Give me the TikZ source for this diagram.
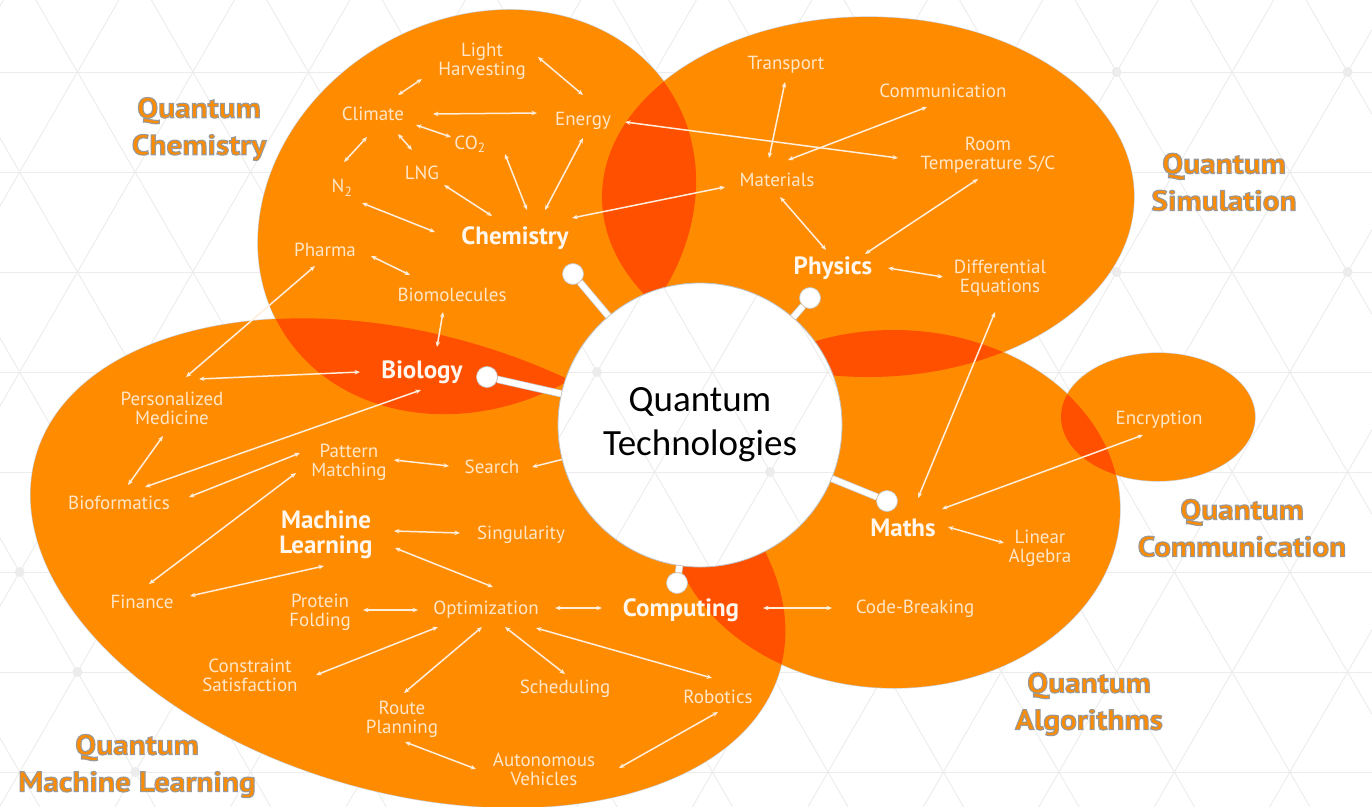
\documentclass[tikz,border=0pt]{standalone}
\usepackage{fontspec}
\setmainfont{PT Sans}
\newfontfamily\qtfont{Carlito}
\newfontfamily\ttlfont[FakeStretch=1.1]{PT Sans}
\usetikzlibrary{arrows.meta}

\definecolor{qorange}{RGB}{255,140,0}
\definecolor{qred}{RGB}{255,80,0}
\definecolor{qlabel}{RGB}{255,230,200}
\definecolor{qhubtext}{RGB}{255,247,238}
\definecolor{qarrow}{RGB}{255,238,220}
\definecolor{qgridc}{RGB}{236,236,236}
\definecolor{qoutline}{RGB}{150,150,150}

\tikzset{
  lbl/.style={font=\fontsize{19}{19}\selectfont, text=qlabel, align=center, inner sep=1pt},
  hublbl/.style={font=\bfseries\fontsize{25}{25}\selectfont, text=qhubtext, align=center, inner sep=1pt},
  ttl/.style={font=\ttlfont\bfseries\fontsize{28.5}{37}\selectfont, text=qorange, align=center, inner sep=0pt},
  biarrow/.style={draw=qarrow, line width=1.5pt, {Stealth[length=5.5pt,width=4.5pt]}-{Stealth[length=5.5pt,width=4.5pt]}},
  onearrow/.style={draw=qarrow, line width=1.5pt, -{Stealth[length=5.5pt,width=4.5pt]}},
  hubline/.style={draw=gray!45, line width=0.7pt, double=white, double distance=6pt},
  hubdot/.style={circle, fill=white, draw=gray!45, line width=0.7pt, minimum size=21pt, inner sep=0pt},
  gridline/.style={draw=qgridc, line width=0.9pt},
  edge halo/.style={draw=qoutline!50, line width=1.2pt},
  chemrot/.style={rotate around={31:(477,212)}},
  mlrot/.style={rotate around={-16:(408,563)}},
}

% double-headed link between two labels, ends given as offsets from the label centres
\newcommand\link[4]{\draw[biarrow] ([shift={#2}]#1.center) -- ([shift={#4}]#3.center);}

% glyphs filled in the text colour and stroked with a thin grey rim
\newcommand\rimtext[1]{\special{pdf:literal direct 2 Tr 1.1 w 0.6 0.6 0.6 RG}#1\special{pdf:literal direct 0 Tr}}
\newcommand\qtitle[3]{\node[ttl] (#1) at #2 {\rimtext{#3}};}

% faint triangular background lattice
\newcommand\qgrid{%
  \foreach \r in {-1,...,8} {\draw[gridline] (-10,{72+100*\r}) -- (1382,{72+100*\r});}
  \foreach \k in {-6,...,17} {%
    \draw[gridline] ({77.4+115.47*\k-57.735},-28) -- ++(519.6,900);
    \draw[gridline] ({77.4+115.47*\k+57.735},-28) -- ++(-519.6,900);}
  \foreach \p in {(597,372),(539,472),(770,472),(19.7,572),(77.4,672),(192.9,672),(135.2,772),(1116.6,72),(1347.5,72),(1116.6,272),(1347.5,272)}
    {\fill[qgridc] \p circle [radius=5pt];}
}

\begin{document}
\begin{tikzpicture}[x=1pt,y=-1pt]
\useasboundingbox (0,0) rectangle (1372,806);
\clip (0,0) rectangle (1372,806);
\fill[white] (0,0) rectangle (1372,806);
\qgrid

% ---- field bubbles: soft rims, then fills ----
\draw[edge halo, chemrot] (477,212) ellipse [x radius=228pt, y radius=192pt];
\draw[edge halo] (868,197) ellipse [x radius=266pt, y radius=180pt];
\draw[edge halo, mlrot] (408,563) ellipse [x radius=387pt, y radius=229pt];
\draw[edge halo] (894,509) ellipse [x radius=226pt, y radius=179pt];
\draw[edge halo] (1158,417) ellipse [x radius=97pt, y radius=64pt];

\fill[qorange, chemrot] (477,212) ellipse [x radius=228pt, y radius=192pt];
\fill[qorange] (868,197) ellipse [x radius=266pt, y radius=180pt];
\fill[qorange, mlrot] (408,563) ellipse [x radius=387pt, y radius=229pt];
\fill[qorange] (894,509) ellipse [x radius=226pt, y radius=179pt];
\fill[qorange] (1158,417) ellipse [x radius=97pt, y radius=64pt];

% ---- overlaps ----
\begin{scope}
  \clip[chemrot] (477,212) ellipse [x radius=228pt, y radius=192pt];
  \fill[qred] (868,197) ellipse [x radius=266pt, y radius=180pt];
\end{scope}
\begin{scope}
  \clip[chemrot] (477,212) ellipse [x radius=228pt, y radius=192pt];
  \fill[qred, mlrot] (408,563) ellipse [x radius=387pt, y radius=229pt];
\end{scope}
\begin{scope}
  \clip (868,197) ellipse [x radius=266pt, y radius=180pt];
  \fill[qred] (894,509) ellipse [x radius=226pt, y radius=179pt];
\end{scope}
\begin{scope}
  \clip[mlrot] (408,563) ellipse [x radius=387pt, y radius=229pt];
  \fill[qred] (894,509) ellipse [x radius=226pt, y radius=179pt];
\end{scope}
\begin{scope}
  \clip (894,509) ellipse [x radius=226pt, y radius=179pt];
  \fill[qred] (1158,417) ellipse [x radius=97pt, y radius=64pt];
\end{scope}

% ---- central disc ----
\fill[white] (700,425) circle [radius=142pt];
\begin{scope}
  \clip (700,425) circle [radius=142pt];
  \qgrid
\end{scope}
\node[circle, draw=gray!50, line width=0.8pt, minimum size=284pt, inner sep=0pt,
      font=\qtfont\fontsize{37}{44}\selectfont, align=center] (qt) at (700,425) {Quantum\\Technologies};

% ---- hub stems ----
\node[hubdot] (dchem) at (573,274) {};
\node[hubdot] (dphys) at (810,298) {};
\node[hubdot] (dbio)  at (487,377) {};
\node[hubdot] (dmath) at (887,501) {};
\node[hubdot] (dcomp) at (677,583) {};
\draw[hubline] (qt) -- (dchem);
\draw[hubline] (qt) -- (dphys);
\draw[hubline] (qt) -- (dbio);
\draw[hubline] (qt) -- (dmath);
\draw[hubline] (qt) -- (dcomp);

% ---- hub labels ----
\node[hublbl] (chem)  at (515,238) {Chemistry};
\node[hublbl] (phys)  at (833,268) {Physics};
\node[hublbl] (bio)   at (422,372) {Biology};
\node[hublbl] (ml)    at (326,535) {Machine\\Learning};
\node[hublbl] (comp)  at (681,610) {Computing};
\node[hublbl] (maths) at (903,528) {Maths};

% ---- topic labels ----
\node[lbl] (lh)     at (482,61)  {Light\\Harvesting};
\node[lbl] (clim)   at (373,114) {Climate};
\node[lbl] (ener)   at (583,121) {Energy};
\node[lbl] (co2)    at (470,144) {CO\textsubscript{2}};
\node[lbl] (lng)    at (422,173) {LNG};
\node[lbl] (n2)     at (342,188) {N\textsubscript{2}};
\node[lbl] (pharma) at (325,250) {Pharma};
\node[lbl] (biomol) at (452,295) {Biomolecules};

\node[lbl] (trans)  at (786,65)  {Transport};
\node[lbl] (comm)   at (943,91)  {Communication};
\node[lbl] (room)   at (988,155) {Room\\Temperature S/C};
\node[lbl] (mat)    at (777,180) {Materials};
\node[lbl] (diff)   at (1000,278) {Differential\\Equations};

\node[lbl] (pers)   at (172,408) {Personalized\\Medicine};
\node[lbl] (biof)   at (119,503) {Bioformatics};
\node[lbl] (patt)   at (349,462) {Pattern\\Matching};
\node[lbl] (search) at (492,467) {Search};
\node[lbl] (sing)   at (521,535) {Singularity};
\node[lbl] (fin)    at (142,602) {Finance};
\node[lbl] (prot)   at (320,612) {Protein\\Folding};
\node[lbl] (opt)    at (486,610) {Optimization};
\node[lbl] (cons)   at (250,675) {Constraint\\Satisfaction};
\node[lbl] (route)  at (402,719) {Route\\Planning};
\node[lbl] (sched)  at (565,689) {Scheduling};
\node[lbl] (robot)  at (718,697) {Robotics};
\node[lbl] (auto)   at (544,769) {Autonomous\\Vehicles};

\node[lbl] (codeb)  at (915,609) {Code-Breaking};
\node[lbl] (lin)    at (1040,548) {Linear\\Algebra};
\node[lbl] (enc)    at (1159,420) {Encryption};

% ---- links: chemistry ----
\link{clim}{(25,-19)}{lh}{(-60,18)}
\link{lh}{(56,-4)}{ener}{(0,-26)}
\link{clim}{(60,0)}{ener}{(-46,-8)}
\link{clim}{(43,11)}{co2}{(-19,-7)}
\link{clim}{(25,20)}{lng}{(-10,-23)}
\link{clim}{(-6,23)}{n2}{(2,-26)}
\link{lng}{(22,12)}{chem}{(-23,-22)}
\link{n2}{(20,15)}{chem}{(-80,-6)}
\link{co2}{(35,10)}{chem}{(12,-28)}
\link{ener}{(0,17)}{chem}{(30,-28)}
\link{mat}{(-52,7)}{chem}{(57,-20)}
\link{pharma}{(46,6)}{biomol}{(-42,-20)}
\link{pharma}{(-10,16)}{pers}{(14,-31)}

% ---- links: physics ----
\link{ener}{(42,1)}{room}{(-90,3)}
\link{trans}{(-1,17)}{mat}{(-8,-22)}
\link{comm}{(-16,16)}{mat}{(11,-20)}
\link{mat}{(3,17)}{phys}{(-7,-18)}
\link{room}{(-10,24)}{phys}{(32,-14)}
\link{phys}{(55,0)}{diff}{(-57,-1)}
\link{diff}{(-5,34)}{maths}{(15,-30)}

% ---- links: maths ----
\link{enc}{(-16,15)}{maths}{(39,-19)}
\link{maths}{(45,-1)}{lin}{(-36,-5)}
\link{comp}{(82,-2)}{codeb}{(-83,-1)}

% ---- links: biology and machine learning ----
\link{biomol}{(-9,17)}{bio}{(15,-25)}
\link{pers}{(27,-29)}{bio}{(-62,0)}
\link{pers}{(-9,28)}{biof}{(9,-18)}
\link{biof}{(26,-16)}{bio}{(-1,18)}
\link{biof}{(70,-6)}{patt}{(-49,-9)}
\link{fin}{(7,-18)}{patt}{(-53,11)}
\link{fin}{(48,-6)}{ml}{(-2,31)}
\link{patt}{(45,-2)}{search}{(-43,-1)}
\draw[onearrow] (qt) -- ([shift={(40,0)}]search.center);
\link{ml}{(68,-4)}{sing}{(-61,-2)}
\link{ml}{(69,13)}{opt}{(7,-23)}
\link{prot}{(43,-2)}{opt}{(-68,0)}
\link{opt}{(69,-2)}{comp}{(-79,-2)}
\link{opt}{(-48,17)}{cons}{(66,0)}
\link{opt}{(-4,17)}{route}{(2,-26)}
\link{opt}{(19,17)}{sched}{(0,-15)}
\link{opt}{(50,18)}{robot}{(-6,-19)}
\link{route}{(3,23)}{auto}{(-68,0)}
\link{auto}{(75,-1)}{robot}{(0,15)}

% ---- field titles ----
\qtitle{tchem}{(199,129)}{Quantum\\Chemistry}
\qtitle{tsim}{(1224,182)}{Quantum\\Simulation}
\qtitle{tcomm}{(1242,528)}{Quantum\\Communication}
\qtitle{talg}{(1089,704)}{Quantum\\Algorithms}
\qtitle{tml}{(137,766)}{Quantum\\Machine Learning}
\end{tikzpicture}
\end{document}
